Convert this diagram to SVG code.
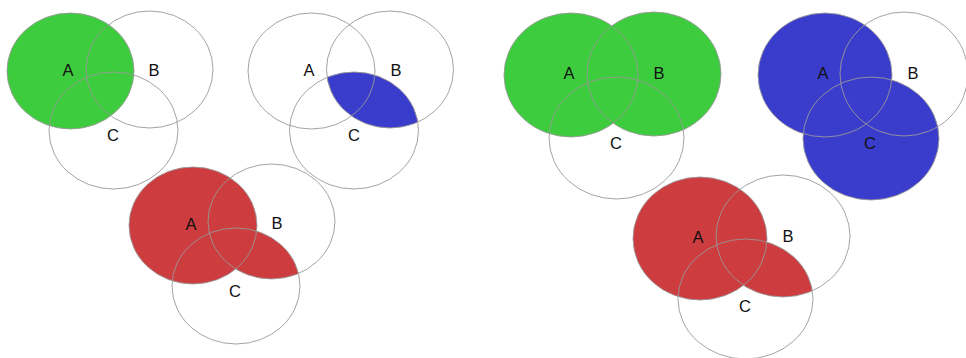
<svg xmlns="http://www.w3.org/2000/svg" width="966" height="358" viewBox="0 0 966 358">
<style>
.o{fill:none;stroke:#999;stroke-width:0.9}
.g{fill:#3dcc3d}
.b{fill:#3a3dcc}
.r{fill:#cd3c3e}
text{font-family:"Liberation Sans","DejaVu Sans",sans-serif;font-size:16.5px;fill:#111;text-anchor:middle}
</style>
<defs>
<clipPath id="c2C"><ellipse cx="354" cy="130.5" rx="64.5" ry="58.5"/></clipPath>
<clipPath id="c3C"><ellipse cx="236" cy="286" rx="64" ry="58"/></clipPath>
<clipPath id="c6C"><ellipse cx="745.5" cy="299" rx="67.5" ry="60"/></clipPath>
</defs>
<rect width="966" height="358" fill="#fff"/>

<g id="diagram1">
<ellipse class="g" cx="70.5" cy="71" rx="63.5" ry="58"/>
<g id="d1-A"><ellipse class="o" cx="70.5" cy="71" rx="63.5" ry="58"/><text x="68" y="76">A</text></g>
<g id="d1-B"><ellipse class="o" cx="149.5" cy="69.5" rx="63.5" ry="58.5"/><text x="154" y="76">B</text></g>
<g id="d1-C"><ellipse class="o" cx="113.5" cy="130.5" rx="64.5" ry="58.5"/><text x="113" y="141">C</text></g>
</g>

<g id="diagram2">
<ellipse class="b" cx="390" cy="69.5" rx="63.5" ry="58.5" clip-path="url(#c2C)"/>
<g id="d2-A"><ellipse class="o" cx="311.5" cy="71" rx="63.5" ry="58"/><text x="309" y="76">A</text></g>
<g id="d2-B"><ellipse class="o" cx="390" cy="69.5" rx="63.5" ry="58.5"/><text x="396" y="76">B</text></g>
<g id="d2-C"><ellipse class="o" cx="354" cy="130.5" rx="64.5" ry="58.5"/><text x="354" y="141">C</text></g>
</g>

<g id="diagram3">
<ellipse class="r" cx="193" cy="225.5" rx="64" ry="58.5"/>
<ellipse class="r" cx="271.5" cy="221.5" rx="63.5" ry="57.5" clip-path="url(#c3C)"/>
<g id="d3-A"><ellipse class="o" cx="193" cy="225.5" rx="64" ry="58.5"/><text x="191" y="230">A</text></g>
<g id="d3-B"><ellipse class="o" cx="271.5" cy="221.5" rx="63.5" ry="57.5"/><text x="277" y="229">B</text></g>
<g id="d3-C"><ellipse class="o" cx="236" cy="286" rx="64" ry="58"/><text x="235" y="297">C</text></g>
</g>

<g id="diagram4">
<ellipse class="g" cx="571" cy="75" rx="67" ry="62"/>
<ellipse class="g" cx="654" cy="74" rx="67" ry="62"/>
<g id="d4-A"><ellipse class="o" cx="571" cy="75" rx="67" ry="62"/><text x="569" y="79">A</text></g>
<g id="d4-B"><ellipse class="o" cx="654" cy="74" rx="67" ry="62"/><text x="659" y="79">B</text></g>
<g id="d4-C"><ellipse class="o" cx="616.5" cy="138" rx="67.5" ry="61"/><text x="616" y="149">C</text></g>
</g>

<g id="diagram5">
<ellipse class="b" cx="825" cy="75" rx="67" ry="62"/>
<ellipse class="b" cx="871" cy="138.5" rx="68" ry="61.5"/>
<g id="d5-A"><ellipse class="o" cx="825" cy="75" rx="67" ry="62"/><text x="823" y="79">A</text></g>
<g id="d5-B"><ellipse class="o" cx="904" cy="74" rx="64" ry="62"/><text x="913" y="79">B</text></g>
<g id="d5-C"><ellipse class="o" cx="871" cy="138.5" rx="68" ry="61.5"/><text x="870" y="149">C</text></g>
</g>

<g id="diagram6">
<ellipse class="r" cx="700" cy="238.5" rx="67" ry="61.5"/>
<ellipse class="r" cx="783" cy="236" rx="67" ry="61" clip-path="url(#c6C)"/>
<g id="d6-A"><ellipse class="o" cx="700" cy="238.5" rx="67" ry="61.5"/><text x="698" y="243">A</text></g>
<g id="d6-B"><ellipse class="o" cx="783" cy="236" rx="67" ry="61"/><text x="788" y="242">B</text></g>
<g id="d6-C"><ellipse class="o" cx="745.5" cy="299" rx="67.5" ry="60"/><text x="745" y="312">C</text></g>
</g>

<g id="connectors"/>
</svg>
